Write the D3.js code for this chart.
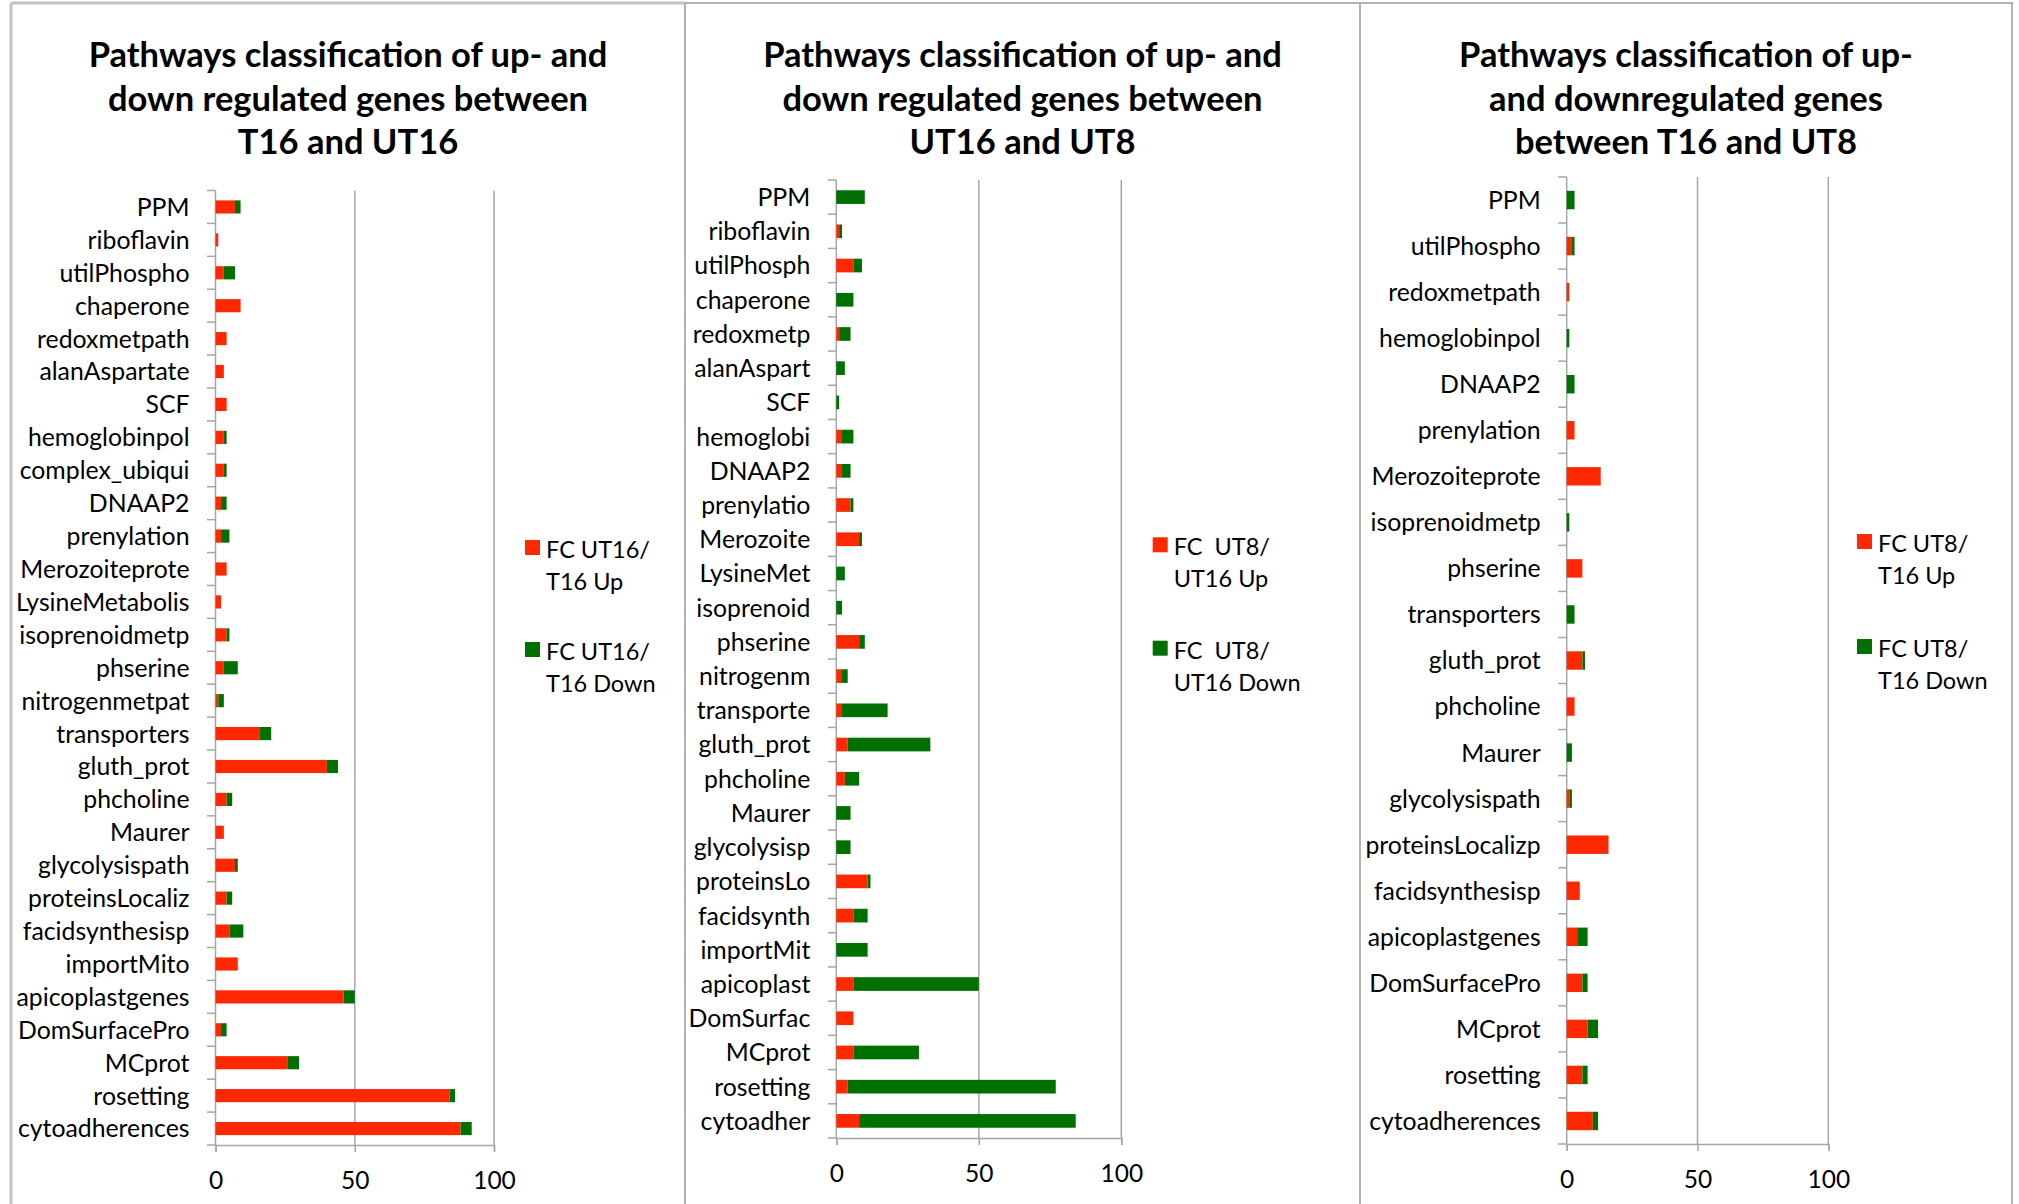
<!DOCTYPE html>
<html>
<head>
<meta charset="utf-8">
<script src="https://cdn.jsdelivr.net/npm/d3@7"></script>
<style>
  body { margin: 0; background: #fff; }
  text { font-family: Lato, "Open Sans", sans-serif; fill: #000; }
</style>
</head>
<body>
<div id="plot"></div>
<script>
// data (gene counts)
const categories1 = ["PPM", "riboflavin", "utilPhospho", "chaperone", "redoxmetpath", "alanAspartate", "SCF",
  "hemoglobinpol", "complex_ubiqui", "DNAAP2", "prenylation", "Merozoiteprote", "LysineMetabolis",
  "isoprenoidmetp", "phserine", "nitrogenmetpat", "transporters", "gluth_prot", "phcholine", "Maurer",
  "glycolysispath", "proteinsLocaliz", "facidsynthesisp", "importMito", "apicoplastgenes", "DomSurfacePro",
  "MCprot", "rosetting", "cytoadherences"];
const up1 =   [7, 1, 3, 9, 4, 3, 4, 3, 3, 2, 2, 4, 2, 4, 3, 1, 16, 40, 4, 3, 7, 4, 5, 8, 46, 2, 26, 84, 88];
const down1 = [2, 0, 4, 0, 0, 0, 0, 1, 1, 2, 3, 0, 0, 1, 5, 2, 4, 4, 2, 0, 1, 2, 5, 0, 4, 2, 4, 2, 4];

const categories2 = ["PPM", "riboflavin", "utilPhosph", "chaperone", "redoxmetp", "alanAspart", "SCF",
  "hemoglobi", "DNAAP2", "prenylatio", "Merozoite", "LysineMet", "isoprenoid", "phserine", "nitrogenm",
  "transporte", "gluth_prot", "phcholine", "Maurer", "glycolysisp", "proteinsLo", "facidsynth", "importMit",
  "apicoplast", "DomSurfac", "MCprot", "rosetting", "cytoadher"];
const up2 =   [0, 1, 6, 0, 1, 0, 0, 2, 2, 5, 8, 0, 0, 8, 2, 2, 4, 3, 0, 0, 11, 6, 0, 6, 6, 6, 4, 8];
const down2 = [10, 1, 3, 6, 4, 3, 1, 4, 3, 1, 1, 3, 2, 2, 2, 16, 29, 5, 5, 5, 1, 5, 11, 44, 0, 23, 73, 76];

const categories3 = ["PPM", "utilPhospho", "redoxmetpath", "hemoglobinpol", "DNAAP2", "prenylation",
  "Merozoiteprote", "isoprenoidmetp", "phserine", "transporters", "gluth_prot", "phcholine", "Maurer",
  "glycolysispath", "proteinsLocalizp", "facidsynthesisp", "apicoplastgenes", "DomSurfacePro", "MCprot",
  "rosetting", "cytoadherences"];
const up3 =   [0, 2, 1, 0, 0, 3, 13, 0, 6, 0, 6, 3, 0, 1, 16, 5, 4, 6, 8, 6, 10];
const down3 = [3, 1, 0, 1, 3, 0, 0, 1, 0, 3, 1, 0, 2, 1, 0, 0, 4, 2, 4, 2, 2];

const titles = [
  ["Pathways classification of up- and", "down regulated genes between", "T16 and UT16"],
  ["Pathways classification of up- and", "down regulated genes between", "UT16 and UT8"],
  ["Pathways classification of up-", "and downregulated genes", "between T16 and UT8"]
];
const legendLabels = [
  [["FC UT16/", "T16 Up"], ["FC UT16/", "T16 Down"]],
  [["FC  UT8/", "UT16 Up"], ["FC  UT8/", "UT16 Down"]],
  [["FC UT8/", "T16 Up"], ["FC UT8/", "T16 Down"]]
];
const xTicks = [0, 50, 100];

const upColor = "#ff2800";
const downColor = "#007000";
const gridColor = "#a6a6a6";

const svg = d3.select("#plot")
  .append("svg")
  .attr("width", 2019)
  .attr("height", 1204);

svg.append("rect").attr("width", 2019).attr("height", 1204).attr("fill", "#fff");

// panel frames
svg.append("line").attr("x1", 11).attr("x2", 685).attr("y1", 3).attr("y2", 3)
  .attr("stroke", "#c4c4c4").attr("stroke-width", 3);
svg.append("line").attr("x1", 685).attr("x2", 2013).attr("y1", 3).attr("y2", 3)
  .attr("stroke", "#9a9a9a").attr("stroke-width", 1.5);
svg.append("line").attr("x1", 11).attr("x2", 11).attr("y1", 3).attr("y2", 1204)
  .attr("stroke", "#c4c4c4").attr("stroke-width", 3);
[685, 1360, 2012].forEach(x => {
  svg.append("line").attr("x1", x).attr("x2", x).attr("y1", 3).attr("y2", 1204)
    .attr("stroke", "#9a9a9a").attr("stroke-width", 1.5);
});

const panels = [
  { cats: categories1, up: up1, down: down1, title: titles[0], legend: legendLabels[0],
    cx: 348, x0: 215.5, x1: 494, top: 190.5, bottom: 1145, lx: 525, ly: 540, lgap: 102 },
  { cats: categories2, up: up2, down: down2, title: titles[1], legend: legendLabels[1],
    cx: 1022.5, x0: 836.3, x1: 1121.3, top: 180, bottom: 1138, lx: 1152.7, ly: 537.3, lgap: 103.4 },
  { cats: categories3, up: up3, down: down3, title: titles[2], legend: legendLabels[2],
    cx: 1686, x0: 1566.7, x1: 1828.3, top: 177, bottom: 1144, lx: 1857, ly: 534, lgap: 105 }
];

panels.forEach(p => {
  const g = svg.append("g");

  // title
  g.append("text")
    .attr("x", p.cx)
    .attr("text-anchor", "middle")
    .style("font-size", "34.5px")
    .style("font-weight", "bold")
    .selectAll("tspan")
    .data(p.title)
    .enter()
    .append("tspan")
    .attr("x", p.cx)
    .attr("y", (d, i) => 67 + i * 43.5)
    .text(d => d);

  const x = d3.scaleLinear().domain([0, 100]).range([p.x0, p.x1]);
  const y = d3.scaleBand()
    .domain(p.cats)
    .range([p.top, p.bottom])
    .paddingInner(0.6)
    .paddingOuter(0.3);

  // vertical gridlines
  g.selectAll(".grid")
    .data(xTicks.filter(t => t > 0))
    .enter()
    .append("line")
    .attr("x1", d => x(d)).attr("x2", d => x(d))
    .attr("y1", p.top).attr("y2", p.bottom)
    .attr("stroke", gridColor).attr("stroke-width", 1.5);

  // bottom axis
  const xAxis = g.append("g")
    .attr("transform", `translate(0,${p.bottom})`)
    .call(d3.axisBottom(x).tickValues(xTicks).tickSize(7).tickPadding(20).tickFormat(d3.format("d")));
  xAxis.select(".domain").attr("stroke", gridColor).attr("stroke-width", 1.5);
  xAxis.selectAll(".tick line").attr("stroke", gridColor).attr("stroke-width", 1.5);
  xAxis.selectAll(".tick text")
    .style("font-size", "24.5px")
    .style("font-family", "Lato, sans-serif")
    .attr("fill", "#000");

  // category axis line and tick marks between categories
  g.append("line")
    .attr("x1", x(0)).attr("x2", x(0))
    .attr("y1", p.top).attr("y2", p.bottom)
    .attr("stroke", gridColor).attr("stroke-width", 1.5);
  const half = y.step() * y.paddingOuter();
  const bounds = p.cats.map(c => y(c) - half).concat([p.bottom]);
  g.selectAll(".ctick")
    .data(bounds)
    .enter()
    .append("line")
    .attr("x1", x(0) - 8.5).attr("x2", x(0))
    .attr("y1", d => d).attr("y2", d => d)
    .attr("stroke", gridColor).attr("stroke-width", 1.5);

  // category labels
  g.selectAll(".clabel")
    .data(p.cats)
    .enter()
    .append("text")
    .attr("x", x(0) - 26)
    .attr("y", d => y(d) + y.bandwidth() / 2)
    .attr("dy", "0.36em")
    .attr("text-anchor", "end")
    .style("font-size", "24.8px")
    .text(d => d);

  // stacked bars
  const rows = p.cats.map((c, i) => ({ cat: c, up: p.up[i], down: p.down[i] }));
  g.selectAll(".up")
    .data(rows.filter(d => d.up > 0))
    .enter()
    .append("rect")
    .attr("x", x(0))
    .attr("y", d => y(d.cat))
    .attr("width", d => x(d.up) - x(0))
    .attr("height", y.bandwidth())
    .attr("fill", upColor);
  g.selectAll(".down")
    .data(rows.filter(d => d.down > 0))
    .enter()
    .append("rect")
    .attr("x", d => x(d.up))
    .attr("y", d => y(d.cat))
    .attr("width", d => x(d.up + d.down) - x(d.up))
    .attr("height", y.bandwidth())
    .attr("fill", downColor);

  // legend
  const lg = g.selectAll(".legend")
    .data(p.legend)
    .enter()
    .append("g")
    .attr("transform", (d, i) => `translate(${p.lx},${p.ly + i * p.lgap})`);
  lg.append("rect")
    .attr("width", 15).attr("height", 15)
    .attr("fill", (d, i) => i === 0 ? upColor : downColor);
  lg.append("text")
    .style("font-size", "23.5px")
    .style("white-space", "pre")
    .selectAll("tspan")
    .data(d => d)
    .enter()
    .append("tspan")
    .attr("x", 21)
    .attr("y", (d, i) => 18 + i * 32)
    .text(d => d);
});
</script>
</body>
</html>
